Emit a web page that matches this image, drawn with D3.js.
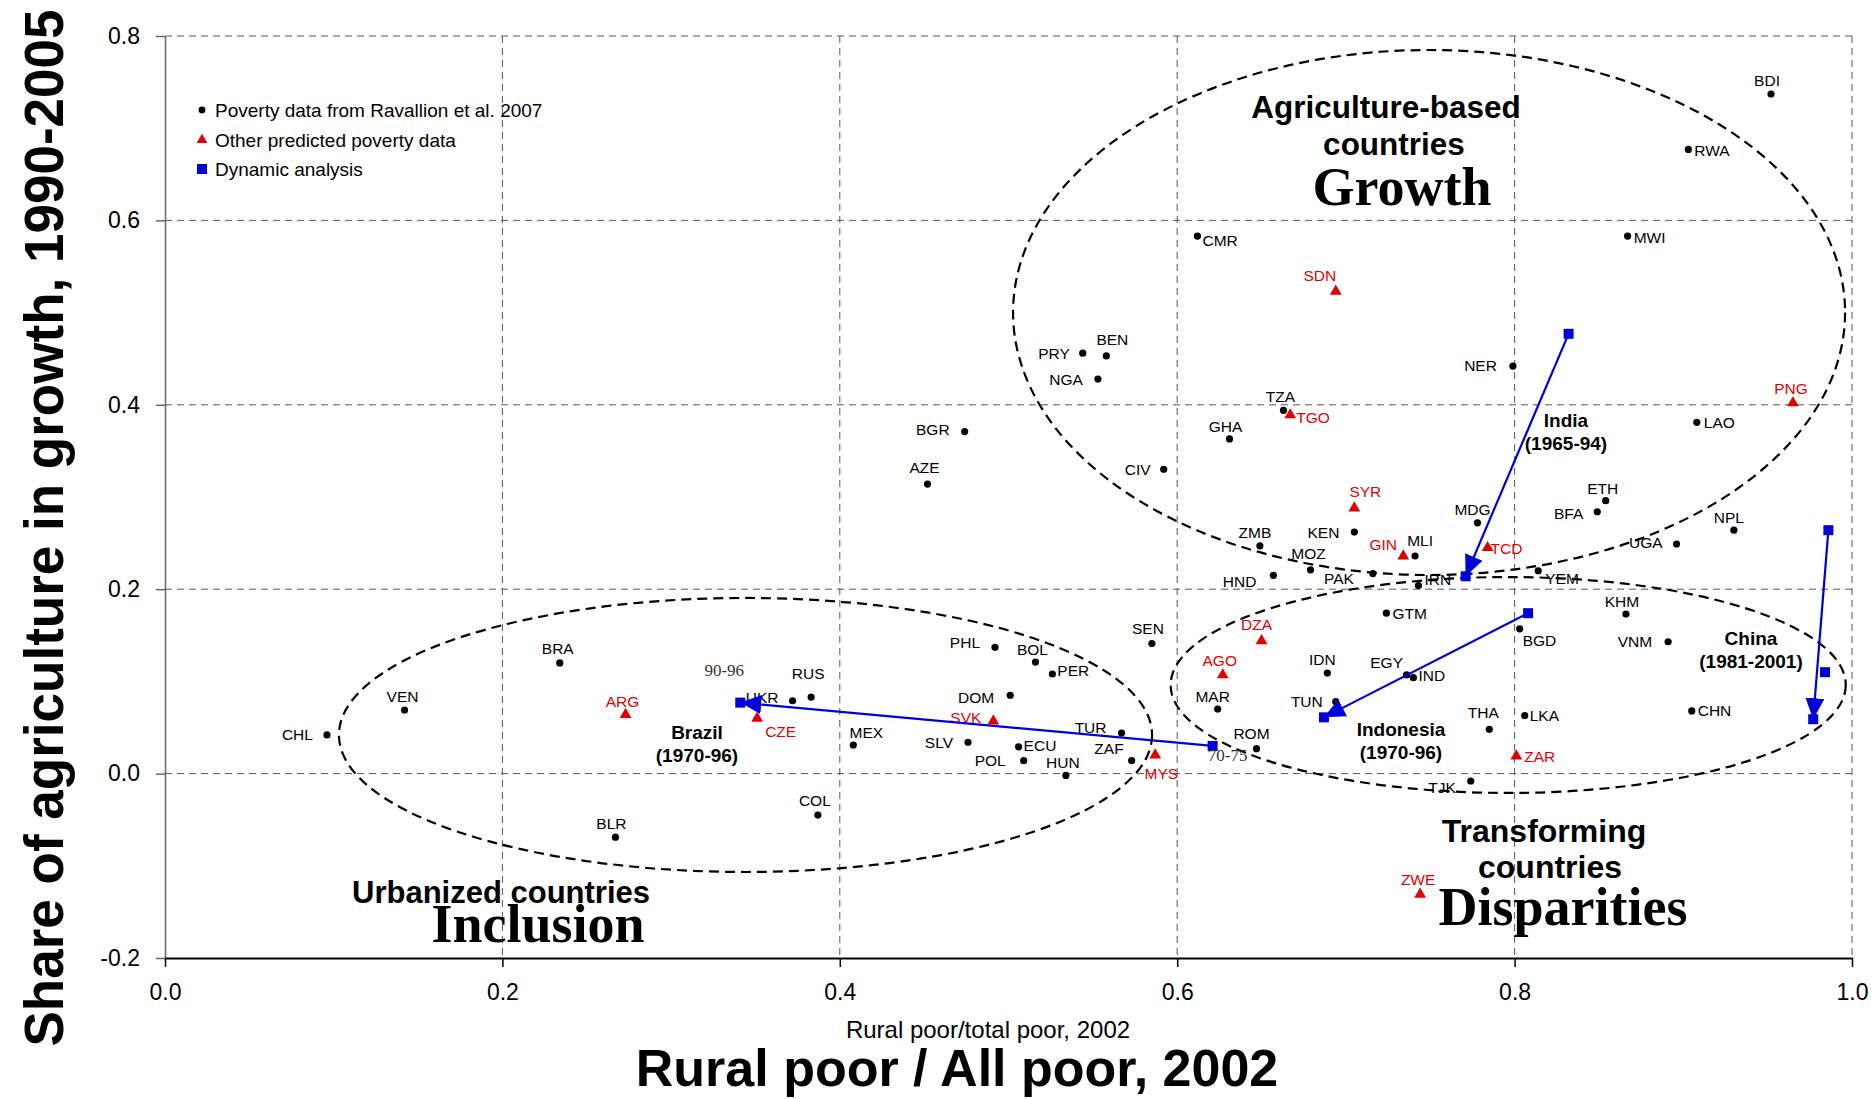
<!DOCTYPE html>
<html>
<head>
<meta charset="utf-8">
<script src="https://cdn.jsdelivr.net/npm/d3@7/dist/d3.min.js"></script>
<style>
  html, body { margin: 0; padding: 0; background: #fff; }
  svg { display: block; }
</style>
</head>
<body>
<svg id="chart" width="1876" height="1099" font-family="'Liberation Sans', Arial, sans-serif"></svg>
<script>
// ---------------- DATA ----------------
// Poverty data from Ravallion et al. 2007 (x = rural poor / total poor, y = share of agriculture in growth)
const ravallion = [
  {code:"BDI", x:0.952, y:0.737}, {code:"RWA", x:0.903, y:0.677}, {code:"MWI", x:0.867, y:0.583},
  {code:"CMR", x:0.612, y:0.583}, {code:"NER", x:0.799, y:0.442}, {code:"PRY", x:0.544, y:0.456},
  {code:"BEN", x:0.558, y:0.453}, {code:"NGA", x:0.553, y:0.428}, {code:"LAO", x:0.908, y:0.381},
  {code:"TZA", x:0.663, y:0.394}, {code:"BGR", x:0.474, y:0.371}, {code:"GHA", x:0.631, y:0.363},
  {code:"AZE", x:0.452, y:0.314}, {code:"CIV", x:0.592, y:0.330}, {code:"ETH", x:0.854, y:0.296},
  {code:"BFA", x:0.849, y:0.284}, {code:"NPL", x:0.930, y:0.264}, {code:"KEN", x:0.705, y:0.262},
  {code:"MDG", x:0.778, y:0.272}, {code:"ZMB", x:0.649, y:0.247}, {code:"UGA", x:0.896, y:0.249},
  {code:"MLI", x:0.741, y:0.236}, {code:"MOZ", x:0.679, y:0.221}, {code:"PAK", x:0.716, y:0.217},
  {code:"HND", x:0.657, y:0.215}, {code:"YEM", x:0.814, y:0.220}, {code:"IRN", x:0.743, y:0.204},
  {code:"GTM", x:0.724, y:0.174}, {code:"KHM", x:0.866, y:0.173}, {code:"BGD", x:0.803, y:0.157},
  {code:"VNM", x:0.891, y:0.143}, {code:"SEN", x:0.585, y:0.141}, {code:"PHL", x:0.492, y:0.137},
  {code:"BOL", x:0.516, y:0.121}, {code:"PER", x:0.526, y:0.108}, {code:"BRA", x:0.234, y:0.120},
  {code:"IDN", x:0.689, y:0.109}, {code:"EGY", x:0.736, y:0.107}, {code:"IND", x:0.740, y:0.104},
  {code:"DOM", x:0.501, y:0.085}, {code:"RUS", x:0.383, y:0.083}, {code:"UKR", x:0.372, y:0.079},
  {code:"TUN", x:0.694, y:0.078}, {code:"VEN", x:0.142, y:0.069}, {code:"MAR", x:0.624, y:0.070},
  {code:"CHN", x:0.905, y:0.068}, {code:"LKA", x:0.806, y:0.063}, {code:"THA", x:0.785, y:0.048},
  {code:"CHL", x:0.096, y:0.042}, {code:"TUR", x:0.567, y:0.044}, {code:"MEX", x:0.408, y:0.031},
  {code:"SLV", x:0.476, y:0.034}, {code:"ECU", x:0.506, y:0.029}, {code:"ROM", x:0.647, y:0.027},
  {code:"POL", x:0.509, y:0.014}, {code:"ZAF", x:0.573, y:0.014}, {code:"HUN", x:0.534, y:-0.002},
  {code:"TJK", x:0.774, y:-0.008}, {code:"COL", x:0.387, y:-0.045}, {code:"BLR", x:0.267, y:-0.069}
];
// Other predicted poverty data
const predicted = [
  {code:"SDN", x:0.694, y:0.523}, {code:"PNG", x:0.965, y:0.402}, {code:"TGO", x:0.667, y:0.389},
  {code:"SYR", x:0.705, y:0.288}, {code:"TCD", x:0.784, y:0.245}, {code:"GIN", x:0.734, y:0.236},
  {code:"DZA", x:0.650, y:0.144}, {code:"AGO", x:0.627, y:0.107}, {code:"ARG", x:0.273, y:0.064},
  {code:"SVK", x:0.491, y:0.057}, {code:"CZE", x:0.351, y:0.060}, {code:"MYS", x:0.587, y:0.020},
  {code:"ZAR", x:0.801, y:0.019}, {code:"ZWE", x:0.744, y:-0.131}
];
// Dynamic analysis (trajectories)
const dynamic = [
  {name:"Brazil",    period:"(1970-96)",   pts:[[0.621,0.030],[0.341,0.077]]},
  {name:"India",     period:"(1965-94)",   pts:[[0.832,0.477],[0.771,0.214]]},
  {name:"Indonesia", period:"(1970-96)",   pts:[[0.808,0.174],[0.687,0.061]]},
  {name:"China",     period:"(1981-2001)", pts:[[0.986,0.264],[0.984,0.110],[0.977,0.059]]}
];
const brazilPeriods = ["70-75", "90-96"];
const xTicks = [0, 0.2, 0.4, 0.6, 0.8, 1.0];
const xTickLabels = ["0.0", "0.2", "0.4", "0.6", "0.8", "1.0"];
const yTicks = [-0.2, 0, 0.2, 0.4, 0.6, 0.8];
const yTickLabels = ["-0.2", "0.0", "0.2", "0.4", "0.6", "0.8"];
const legendItems = ["Poverty data from Ravallion et al. 2007", "Other predicted poverty data", "Dynamic analysis"];

// ---------------- LAYOUT / STYLE ----------------
const RED = "#e00000", BLUE = "#0000d8";
const SANS = "'Liberation Sans', Arial, sans-serif";
const SERIF = "'Liberation Serif', 'Times New Roman', serif";
const W = 1876, H = 1099;
const L = 165, R = 1852, T = 36, B = 958;
const x = d3.scaleLinear().domain([0, 1]).range([L, R]);
const y = d3.scaleLinear().domain([-0.2, 0.8]).range([B, T]);

// label offsets (px) [dx, dy, anchor]
const lab = {
  BDI:[-4,-14,"middle"], RWA:[6,1,"start"], MWI:[6,1,"start"], CMR:[5,4,"start"],
  SDN:[-16,-16,"middle"], PRY:[-13,0,"end"], BEN:[6,-16,"middle"], NGA:[-15,1,"end"],
  NER:[-16,-1,"end"], TZA:[-3,-14,"middle"], TGO:[6,3,"start"], PNG:[-2,-14,"middle"],
  LAO:[7,0,"start"], GHA:[-4,-12,"middle"], BGR:[-15,-2,"end"], AZE:[-3,-17,"middle"],
  CIV:[-13,0,"end"], SYR:[11,-17,"middle"], ETH:[-3,-12,"middle"], BFA:[-14,2,"end"],
  NPL:[-5,-13,"middle"], MDG:[-5,-13,"middle"], KEN:[-15,0,"end"], ZMB:[-5,-13,"middle"],
  GIN:[-20,-12,"middle"], MLI:[5,-16,"middle"], TCD:[3,1,"start"], UGA:[-14,-2,"end"],
  MOZ:[-2,-16,"middle"], PAK:[-19,5,"end"], HND:[-17,6,"end"], IRN:[6,-6,"start"],
  YEM:[7,8,"start"], GTM:[6,0,"start"], KHM:[-4,-13,"middle"], BGD:[3,12,"start"],
  VNM:[-16,0,"end"], SEN:[-4,-15,"middle"], PHL:[-15,-5,"end"], BOL:[-3,-13,"middle"],
  PER:[5,-4,"start"], DOM:[-16,2,"end"], SVK:[-12,-4,"end"], TUR:[-15,-6,"end"],
  SLV:[-15,0,"end"], ECU:[5,-1,"start"], POL:[-18,0,"end"], HUN:[-3,-13,"middle"],
  ZAF:[-8,-12,"end"], MYS:[6,18,"middle"], MAR:[-5,-13,"middle"], AGO:[-3,-14,"middle"],
  DZA:[-5,-16,"middle"], IDN:[-5,-14,"middle"], EGY:[-20,-12,"middle"], IND:[5,-2,"start"],
  TUN:[-13,0,"end"], ROM:[-5,-15,"middle"], THA:[-6,-17,"middle"], LKA:[5,0,"start"],
  ZAR:[8,0,"start"], TJK:[-15,7,"end"], CHN:[6,0,"start"], ZWE:[-2,-15,"middle"],
  BRA:[-2,-14,"middle"], VEN:[-2,-13,"middle"], CHL:[-14,0,"end"], ARG:[-3,-13,"middle"],
  RUS:[-3,-24,"middle"], UKR:[-14,-3,"end"], CZE:[8,13,"start"], MEX:[13,-13,"middle"],
  BLR:[-4,-14,"middle"], COL:[-3,-15,"middle"]
};

// region ellipses in data units
const ellipses = [
  {cx:0.7493, cy:0.5001, rx:0.2466, ry:0.2847},
  {cx:0.3441, cy:0.0419, rx:0.2410, ry:0.1486},
  {cx:0.7962, cy:0.0961, rx:0.2001, ry:0.1171}
];

const svg = d3.select("#chart");
svg.append("rect").attr("width", W).attr("height", H).attr("fill", "#fff");

const defs = svg.append("defs");
defs.append("marker").attr("id", "ah")
  .attr("viewBox", "0 0 10 10").attr("refX", 10).attr("refY", 5)
  .attr("markerUnits", "userSpaceOnUse").attr("markerWidth", 21).attr("markerHeight", 19)
  .attr("preserveAspectRatio", "none").attr("orient", "auto")
  .append("path").attr("d", "M0,0 L10,5 L0,10 Z").attr("fill", BLUE);

// grid
const grid = svg.append("g");
grid.selectAll("line.h").data(yTicks.filter(d => d > -0.2)).join("line")
  .attr("x1", L).attr("x2", R).attr("y1", d => y(d)).attr("y2", d => y(d))
  .attr("stroke", "#555").attr("stroke-width", 1).attr("stroke-dasharray", "7,5");
grid.selectAll("line.v").data(xTicks.filter(d => d > 0)).join("line")
  .attr("y1", T).attr("y2", B).attr("x1", d => x(d)).attr("x2", d => x(d))
  .attr("stroke", "#555").attr("stroke-width", 1).attr("stroke-dasharray", "7,5");

// axes
const yAxis = svg.append("g").attr("transform", `translate(${L},0)`)
  .call(d3.axisLeft(y).tickValues(yTicks).tickFormat((d, i) => yTickLabels[i]).tickSize(9).tickSizeOuter(0).tickPadding(16));
yAxis.select(".domain").attr("stroke", "#666").attr("stroke-width", 1.5);
yAxis.selectAll(".tick line").attr("stroke", "#666").attr("stroke-width", 1.5);
yAxis.selectAll(".tick text").attr("font-size", 23).attr("fill", "#000").style("font-family", SANS);

const xAxis = svg.append("g").attr("transform", `translate(0,${B})`)
  .call(d3.axisBottom(x).tickValues(xTicks).tickFormat((d, i) => xTickLabels[i]).tickSize(9).tickSizeOuter(0).tickPadding(17));
xAxis.select(".domain").attr("stroke", "#000").attr("stroke-width", 2);
xAxis.selectAll(".tick line").attr("stroke", "#000").attr("stroke-width", 1.5);
xAxis.selectAll(".tick text").attr("font-size", 23).attr("fill", "#000").style("font-family", SANS);

// ellipses
svg.append("g").selectAll("ellipse").data(ellipses).join("ellipse")
  .attr("cx", d => x(d.cx)).attr("cy", d => y(d.cy))
  .attr("rx", d => x(d.rx) - x(0)).attr("ry", d => y(0) - y(d.ry))
  .attr("fill", "none").attr("stroke", "#000").attr("stroke-width", 2.2).attr("stroke-dasharray", "10,6");

// points
const pts = svg.append("g");
pts.selectAll("circle").data(ravallion).join("circle")
  .attr("cx", d => x(d.x)).attr("cy", d => y(d.y)).attr("r", 3.6).attr("fill", "#000");
const tri = d3.symbol().type(d3.symbolTriangle).size(60);
pts.selectAll("path.tri").data(predicted).join("path").attr("class", "tri")
  .attr("d", tri).attr("transform", d => `translate(${x(d.x)},${y(d.y)})`).attr("fill", RED);

// point labels
const labG = svg.append("g").attr("font-size", 15.5);
labG.selectAll("text.r").data(ravallion).join("text")
  .attr("x", d => x(d.x) + lab[d.code][0]).attr("y", d => y(d.y) + lab[d.code][1])
  .attr("text-anchor", d => lab[d.code][2]).attr("dominant-baseline", "central")
  .attr("fill", "#000").text(d => d.code);
labG.selectAll("text.p").data(predicted).join("text")
  .attr("x", d => x(d.x) + lab[d.code][0]).attr("y", d => y(d.y) + lab[d.code][1])
  .attr("text-anchor", d => lab[d.code][2]).attr("dominant-baseline", "central")
  .attr("fill", RED).text(d => d.code);

// dynamic arrows
const dyn = svg.append("g");
dyn.selectAll("line").data(dynamic).join("line")
  .attr("x1", d => x(d.pts[0][0])).attr("y1", d => y(d.pts[0][1]))
  .attr("x2", d => x(d.pts[d.pts.length - 1][0])).attr("y2", d => y(d.pts[d.pts.length - 1][1]))
  .attr("stroke", BLUE).attr("stroke-width", 2.2).attr("marker-end", "url(#ah)");
dyn.selectAll("rect").data(dynamic.flatMap(d => d.pts)).join("rect")
  .attr("x", d => x(d[0]) - 5).attr("y", d => y(d[1]) - 5).attr("width", 10).attr("height", 10).attr("fill", BLUE);

// Brazil period labels
const brazil = dynamic[0];
svg.append("text").attr("x", x(brazil.pts[0][0]) + 15).attr("y", y(brazil.pts[0][1]) + 10)
  .attr("text-anchor", "middle").attr("dominant-baseline", "central")
  .style("font-family", SERIF).attr("font-size", 17)
  .attr("fill", "#333").text(brazilPeriods[0]);
svg.append("text").attr("x", x(brazil.pts[1][0]) - 16).attr("y", y(brazil.pts[1][1]) - 32)
  .attr("text-anchor", "middle").attr("dominant-baseline", "central")
  .style("font-family", SERIF).attr("font-size", 17)
  .attr("fill", "#333").text(brazilPeriods[1]);

// dynamic names
const dynLabelPos = {Brazil:[697, 732], India:[1566, 420], Indonesia:[1401, 729], China:[1751, 638]};
const dl = svg.append("g").attr("font-weight", "bold").attr("font-size", 19).attr("text-anchor", "middle");
dynamic.forEach(d => {
  const p = dynLabelPos[d.name];
  dl.append("text").attr("x", p[0]).attr("y", p[1]).attr("dominant-baseline", "central").text(d.name);
  dl.append("text").attr("x", p[0]).attr("y", p[1] + 23).attr("dominant-baseline", "central").text(d.period);
});

// region titles
const reg = svg.append("g").attr("text-anchor", "middle").attr("font-weight", "bold").attr("fill", "#000");
reg.append("text").attr("x", 1386).attr("y", 118).attr("font-size", 31.5).text("Agriculture-based");
reg.append("text").attr("x", 1394).attr("y", 155).attr("font-size", 31.5).text("countries");
reg.append("text").attr("x", 1402).attr("y", 205).attr("font-size", 54)
  .style("font-family", SERIF).text("Growth");
reg.append("text").attr("x", 501).attr("y", 903).attr("font-size", 31).text("Urbanized countries");
reg.append("text").attr("x", 538).attr("y", 942).attr("font-size", 54)
  .style("font-family", SERIF).text("Inclusion");
reg.append("text").attr("x", 1544).attr("y", 842).attr("font-size", 32).text("Transforming");
reg.append("text").attr("x", 1550).attr("y", 878).attr("font-size", 32).text("countries");
reg.append("text").attr("x", 1563).attr("y", 925).attr("font-size", 54)
  .style("font-family", SERIF).text("Disparities");

// legend
const lg = svg.append("g").attr("font-size", 19);
const lgY = [110, 140, 169];
lg.append("circle").attr("cx", 202).attr("cy", lgY[0]).attr("r", 3.4).attr("fill", "#000");
lg.append("path").attr("d", d3.symbol().type(d3.symbolTriangle).size(50)).attr("transform", `translate(202,${lgY[1]})`).attr("fill", RED);
lg.append("rect").attr("x", 197).attr("y", lgY[2] - 5).attr("width", 10).attr("height", 10).attr("fill", BLUE);
legendItems.forEach((t, i) => lg.append("text").attr("x", 215).attr("y", lgY[i]).attr("dominant-baseline", "central").text(t));

// axis titles
svg.append("text").attr("x", 988).attr("y", 1038).attr("text-anchor", "middle").attr("font-size", 24).text("Rural poor/total poor, 2002");
svg.append("text").attr("x", 957).attr("y", 1086).attr("text-anchor", "middle").attr("font-size", 52).attr("font-weight", "bold").text("Rural poor / All poor, 2002");
svg.append("text").attr("transform", "translate(63,528) rotate(-90)").attr("text-anchor", "middle")
  .attr("font-size", 55).attr("font-weight", "bold")
  .attr("textLength", 1037).attr("lengthAdjust", "spacingAndGlyphs")
  .text("Share of agriculture in growth, 1990-2005");
</script>
</body>
</html>
